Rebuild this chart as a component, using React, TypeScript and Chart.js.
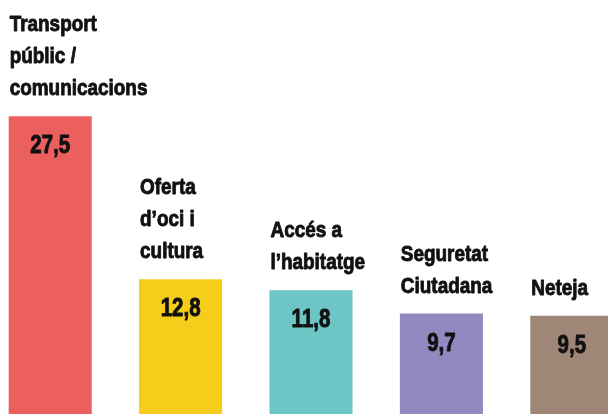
import React, { useEffect, useRef } from "react";
import { Chart, registerables } from "chart.js";

Chart.register(...registerables);

const categories: string[][] = [
  ["Transport", "públic /", "comunicacions"],
  ["Oferta", "d’oci i", "cultura"],
  ["Accés a", "l’habitatge"],
  ["Seguretat", "Ciutadana"],
  ["Neteja"],
];
const values: number[] = [27.5, 12.8, 11.8, 9.7, 9.5];
const colors: string[] = ["#EC5F5F", "#F6CD1B", "#6DC5C5", "#9189BF", "#9F8676"];

const FONT = '"Liberation Sans", Arial, sans-serif';

function condensedText(ctx: any, text: string, x: number, y: number, sx: number, align: string) {
  ctx.save();
  ctx.translate(x, y);
  ctx.scale(sx, 1);
  ctx.textAlign = align;
  ctx.textBaseline = "alphabetic";
  ctx.lineWidth = 0.9;
  ctx.lineJoin = "round";
  ctx.strokeStyle = "#111111";
  ctx.fillText(text, 0, 0);
  ctx.strokeText(text, 0, 0);
  ctx.restore();
}

const labelPlugin = {
  id: "barLabels",
  afterDatasetsDraw(chart: any) {
    const ctx = chart.ctx;
    const meta = chart.getDatasetMeta(0);
    ctx.save();
    ctx.fillStyle = "#111111";
    meta.data.forEach((bar: any, i: number) => {
      const { x, y, width } = bar.getProps(["x", "y", "width"], true);
      const left = x - width / 2;
      ctx.font = `bold 22px ${FONT}`;
      const lines = categories[i];
      const n = lines.length;
      lines.forEach((line, k) => {
        condensedText(ctx, line, left + 1, y - 21 - (n - 1 - k) * 32, 0.86, "left");
      });
      ctx.font = `bold 25px ${FONT}`;
      condensedText(ctx, values[i].toFixed(1).replace(".", ","), x, y + 37, 0.82, "center");
    });
    ctx.restore();
  },
};

export default function App() {
  const ref = useRef<HTMLCanvasElement | null>(null);
  useEffect(() => {
    document.body.style.margin = "0";
    document.body.style.overflow = "hidden";
    const chart = new Chart(ref.current!, {
      type: "bar",
      data: {
        labels: categories.map((c) => c.join(" ")),
        datasets: [
          {
            data: values,
            backgroundColor: colors,
            borderWidth: 0,
            barPercentage: 0.637,
            categoryPercentage: 1,
          },
        ],
      },
      options: {
        animation: false,
        responsive: false,
        devicePixelRatio: 1,
        layout: { padding: 0 },
        plugins: { legend: { display: false }, tooltip: { enabled: false }, title: { display: false } },
        scales: {
          x: { display: false },
          y: { display: false, min: 0, max: 38 },
        },
      },
      plugins: [labelPlugin],
    });
    return () => chart.destroy();
  }, []);
  return (
    <div style={{ position: "fixed", left: 0, top: 0, width: 608, height: 414, overflow: "hidden", background: "#fff" }}>
      <canvas ref={ref} width={652} height={421} style={{ position: "absolute", left: -15, top: 0 }} />
    </div>
  );
}
